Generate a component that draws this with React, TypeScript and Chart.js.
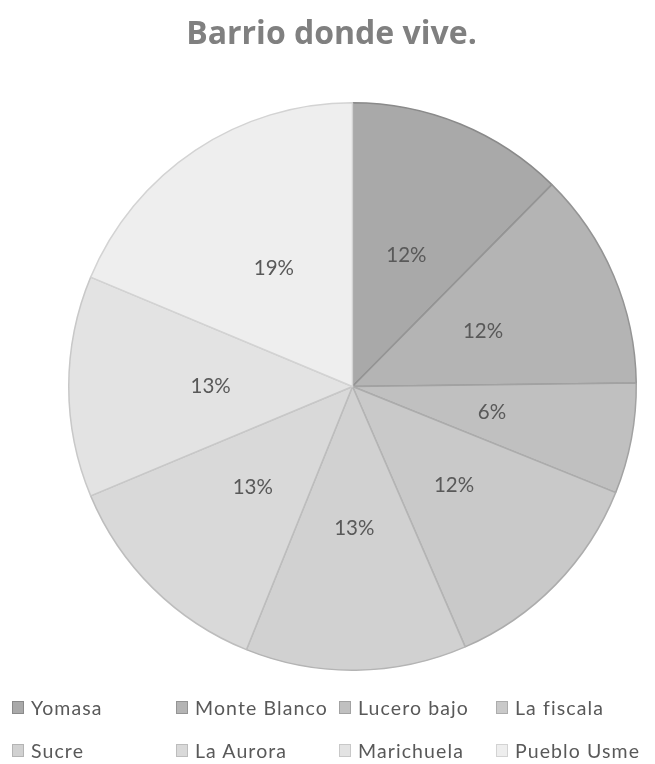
import React, { useEffect, useRef } from "react";
import { Chart, registerables } from "chart.js";

Chart.register(...registerables);

const titleText = "Barrio donde vive.";
const categories = [
  "Yomasa",
  "Monte Blanco",
  "Lucero bajo",
  "La fiscala",
  "Sucre",
  "La Aurora",
  "Marichuela",
  "Pueblo Usme",
];
const values = [12.4, 12.4, 6.3, 12.4, 12.6, 12.6, 12.6, 18.7];
const fillColors = [
  "#a9a9a9",
  "#b4b4b4",
  "#c0c0c0",
  "#c9c9c9",
  "#d1d1d1",
  "#d9d9d9",
  "#e3e3e3",
  "#eeeeee",
];
const borderColors = [
  "#8a8a8a",
  "#949494",
  "#a2a2a2",
  "#acacac",
  "#b4b4b4",
  "#bdbdbd",
  "#c8c8c8",
  "#d3d3d3",
];

const labelPlugin = {
  id: "sliceLabels",
  afterDatasetsDraw(chart: any) {
    const ctx = chart.ctx;
    const meta = chart.getDatasetMeta(0);
    const data = chart.data.datasets[0].data as number[];
    const total = data.reduce((a, b) => a + b, 0);
    ctx.save();
    ctx.font = "20.5px Lato";
    ctx.fillStyle = "#595959";
    ctx.textAlign = "center";
    ctx.textBaseline = "middle";
    meta.data.forEach((arc: any, i: number) => {
      const p = arc.getProps(["x", "y", "startAngle", "endAngle", "outerRadius"], true);
      const mid = (p.startAngle + p.endAngle) / 2;
      const r = p.outerRadius * 0.5;
      const txt = Math.round((data[i] / total) * 100) + "%";
      ctx.fillText(txt, p.x + Math.cos(mid) * r, p.y + Math.sin(mid) * r);
    });
    ctx.restore();
  },
};

export default function App() {
  const canvasRef = useRef<HTMLCanvasElement | null>(null);

  useEffect(() => {
    if (!canvasRef.current) return;
    const chart = new Chart(canvasRef.current, {
      type: "pie",
      data: {
        labels: categories,
        datasets: [
          {
            data: values,
            backgroundColor: fillColors,
            borderColor: borderColors,
            borderWidth: 1.5,
          },
        ],
      },
      options: {
        responsive: false,
        animation: false,
        layout: { padding: { left: 68, right: 18, top: 102, bottom: 93 } },
        plugins: {
          legend: { display: false },
          title: { display: false },
          tooltip: { enabled: false },
        },
      },
      plugins: [labelPlugin],
    });
    return () => chart.destroy();
  }, []);

  const colLefts = [12, 176, 339, 496];
  const rowTops = [697, 740];

  return (
    <div
      style={{
        position: "absolute",
        left: 0,
        top: 0,
        width: 655,
        height: 764,
        background: "#ffffff",
        overflow: "hidden",
      }}
    >
      <canvas ref={canvasRef} width={655} height={764} style={{ position: "absolute", left: 0, top: 0 }} />
      <div
        style={{
          position: "absolute",
          left: 4,
          top: 15,
          width: 655,
          textAlign: "center",
          fontFamily: "'Open Sans', sans-serif",
          fontWeight: 700,
          fontSize: 32,
          lineHeight: "34px",
          color: "#808080",
        }}
      >
        {titleText}
      </div>
      {categories.map((c, i) => (
        <div
          key={c}
          style={{
            position: "absolute",
            left: colLefts[i % 4],
            top: rowTops[Math.floor(i / 4)],
            height: 20,
            display: "flex",
            alignItems: "center",
            fontFamily: "Lato, sans-serif",
            fontSize: 19.5,
            letterSpacing: 1.1,
            color: "#595959",
            whiteSpace: "nowrap",
          }}
        >
          <span
            style={{
              display: "inline-block",
              width: 10,
              height: 11,
              background: fillColors[i],
              border: `1px solid ${borderColors[i]}`,
              marginRight: 7,
            }}
          />
          {c}
        </div>
      ))}
    </div>
  );
}
